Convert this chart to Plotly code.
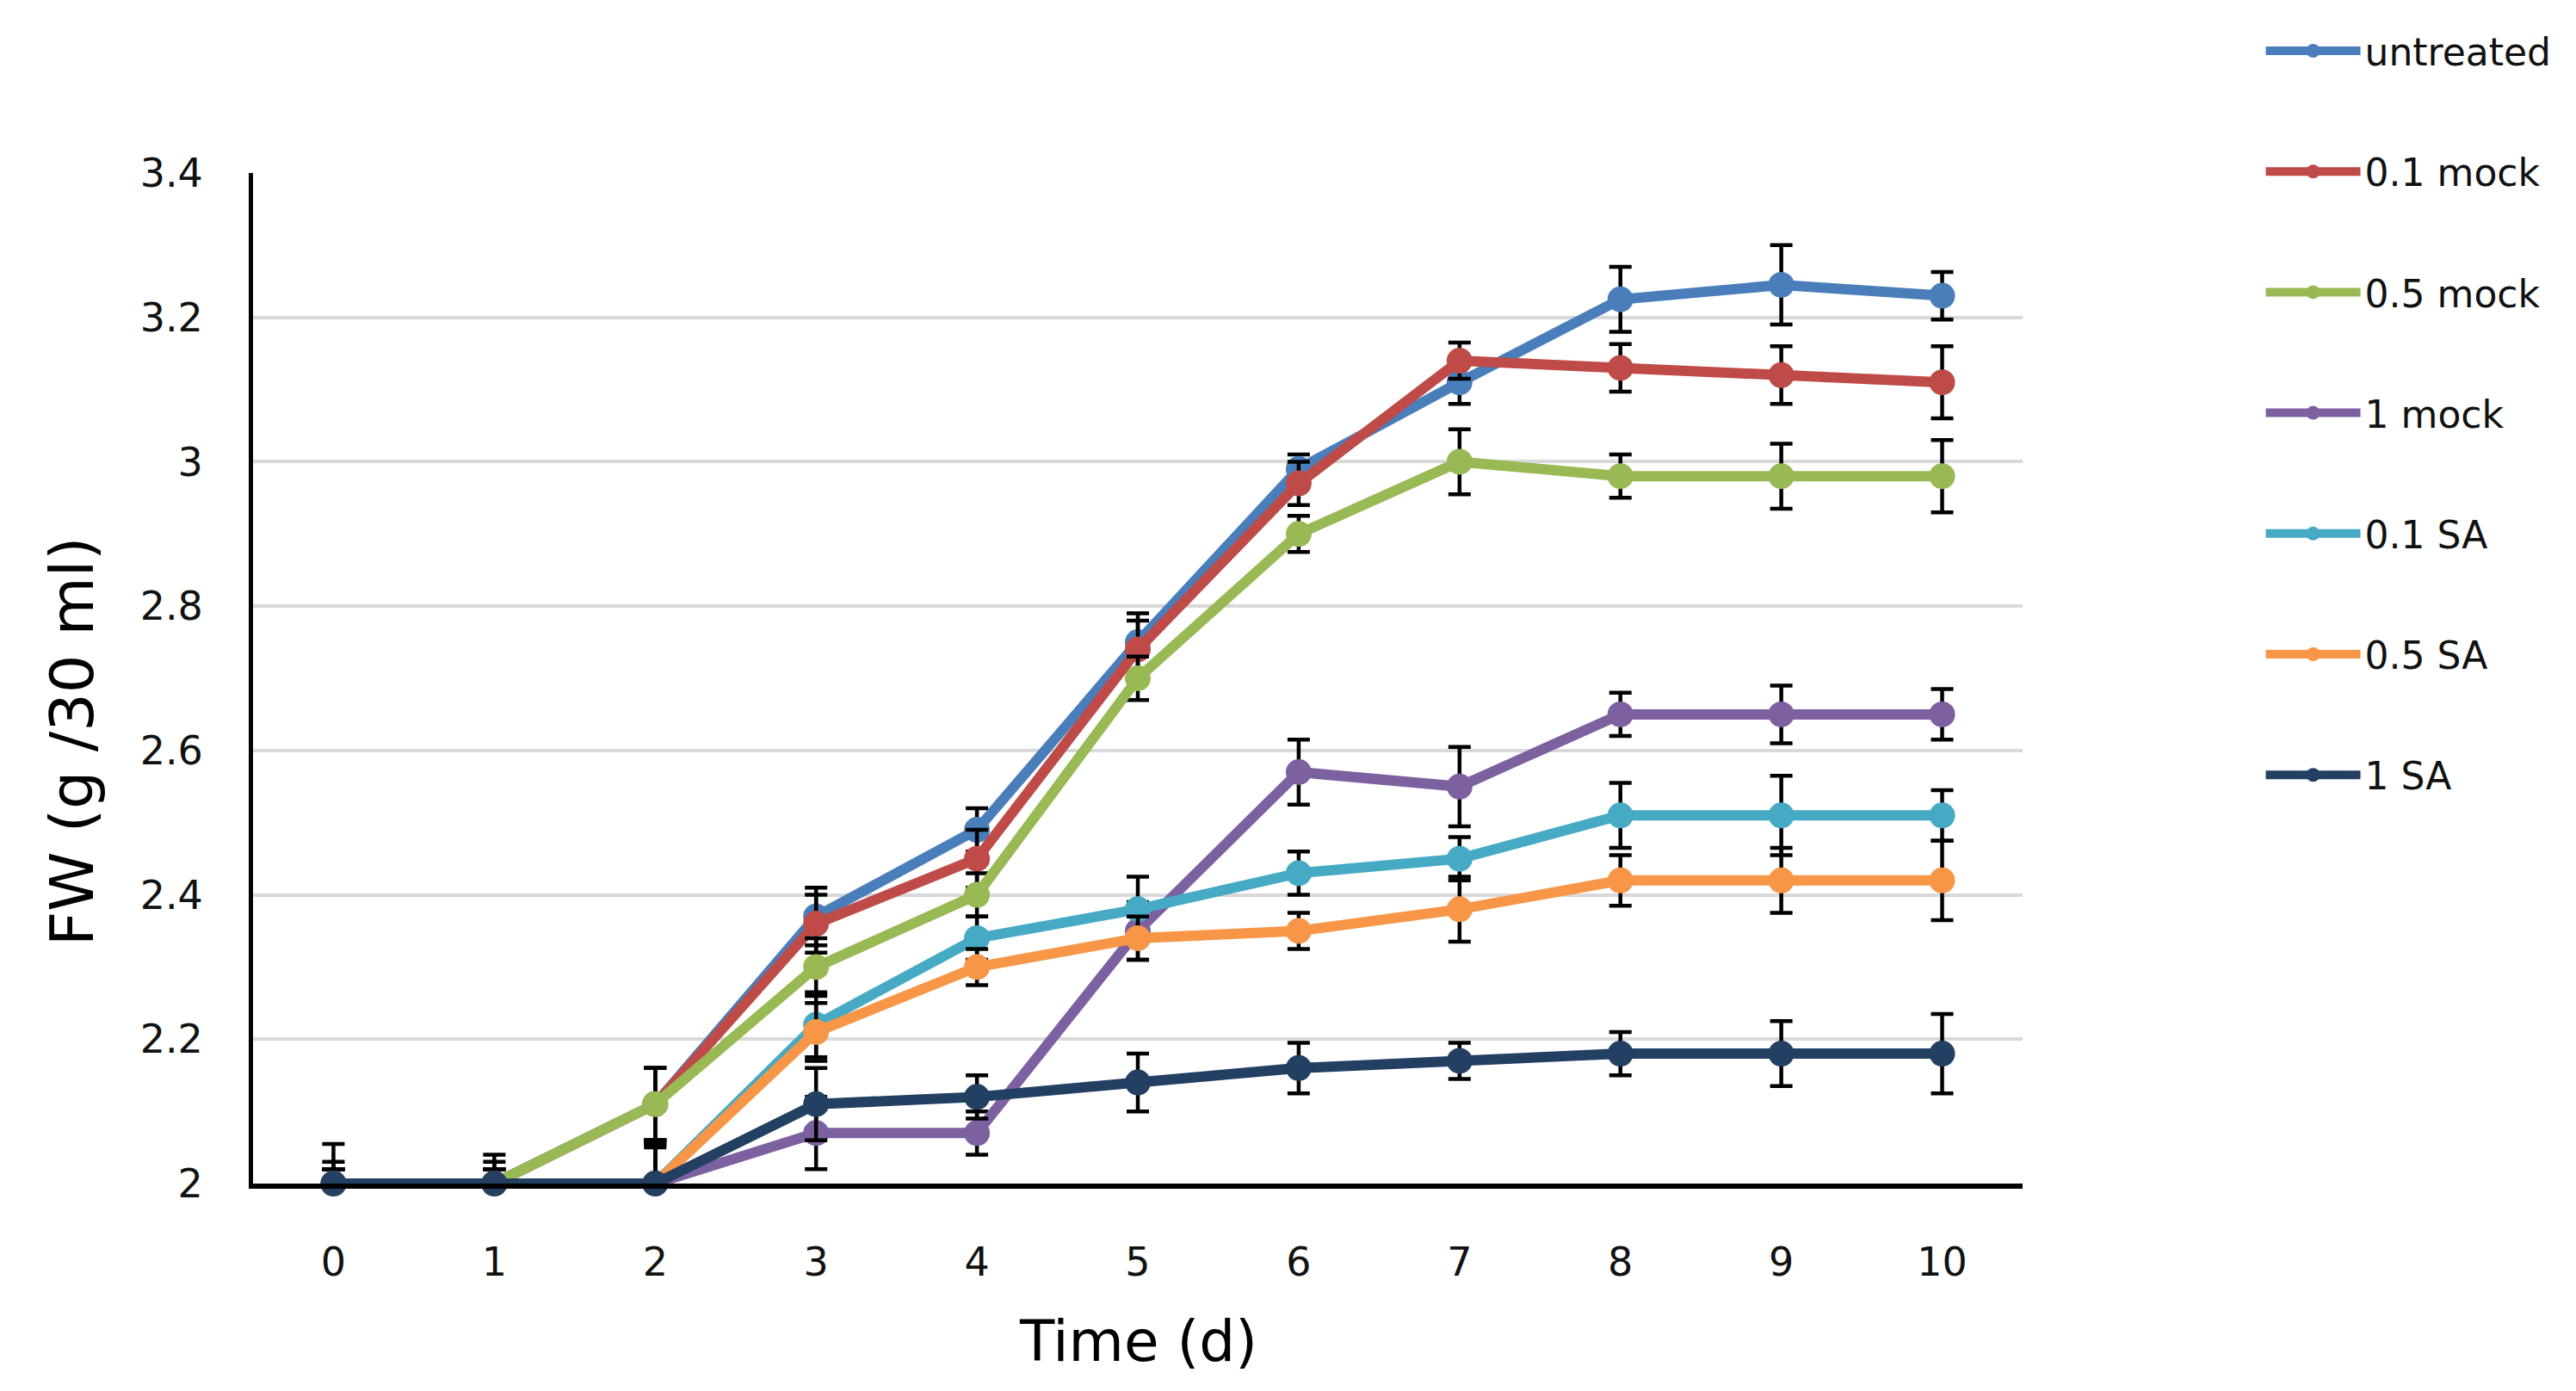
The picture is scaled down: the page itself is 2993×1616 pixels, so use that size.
import plotly.graph_objects as go

days = [0, 1, 2, 3, 4, 5, 6, 7, 8, 9, 10]
x_tick_labels = ["0", "1", "2", "3", "4", "5", "6", "7", "8", "9", "10"]
y_tick_values = [2.0, 2.2, 2.4, 2.6, 2.8, 3.0, 3.2, 3.4]

series_names = ["untreated", "0.1 mock", "0.5 mock", "1 mock", "0.1 SA", "0.5 SA", "1 SA"]

untreated = [2.0, 2.0, 2.11, 2.37, 2.49, 2.75, 2.99, 3.11, 3.225, 3.245, 3.23]
untreated_err = [0.055, 0.04, 0.05, 0.04, 0.03, 0.04, 0.02, 0.03, 0.045, 0.055, 0.033]
untreated_err_minus = [0.0, 0.0, 0.05, 0.04, 0.03, 0.04, 0.02, 0.03, 0.045, 0.055, 0.033]

mock_01 = [2.0, 2.0, 2.11, 2.36, 2.45, 2.74, 2.97, 3.14, 3.13, 3.12, 3.11]
mock_01_err = [0.02, 0.02, 0.05, 0.04, 0.04, 0.04, 0.03, 0.025, 0.033, 0.04, 0.05]
mock_01_err_minus = [0.0, 0.0, 0.05, 0.04, 0.04, 0.04, 0.03, 0.025, 0.033, 0.04, 0.05]

mock_05 = [2.0, 2.0, 2.11, 2.30, 2.40, 2.70, 2.90, 3.00, 2.98, 2.98, 2.98]
mock_05_err = [0.02, 0.02, 0.05, 0.04, 0.03, 0.03, 0.025, 0.045, 0.03, 0.045, 0.05]
mock_05_err_minus = [0.0, 0.0, 0.05, 0.04, 0.03, 0.03, 0.025, 0.045, 0.03, 0.045, 0.05]

mock_1 = [2.0, 2.0, 2.0, 2.07, 2.07, 2.35, 2.57, 2.55, 2.65, 2.65, 2.65]
mock_1_err = [0.02, 0.02, 0.05, 0.05, 0.03, 0.04, 0.045, 0.055, 0.03, 0.04, 0.035]
mock_1_err_minus = [0.0, 0.0, 0.0, 0.05, 0.03, 0.04, 0.045, 0.055, 0.03, 0.04, 0.035]

sa_01 = [2.0, 2.0, 2.0, 2.22, 2.34, 2.38, 2.43, 2.45, 2.51, 2.51, 2.51]
sa_01_err = [0.02, 0.02, 0.055, 0.045, 0.03, 0.045, 0.03, 0.03, 0.045, 0.055, 0.035]
sa_01_err_minus = [0.0, 0.0, 0.0, 0.045, 0.03, 0.045, 0.03, 0.03, 0.045, 0.055, 0.035]

sa_05 = [2.0, 2.0, 2.0, 2.21, 2.30, 2.34, 2.35, 2.38, 2.42, 2.42, 2.42]
sa_05_err = [0.02, 0.02, 0.055, 0.04, 0.025, 0.03, 0.025, 0.045, 0.035, 0.045, 0.055]
sa_05_err_minus = [0.0, 0.0, 0.0, 0.04, 0.025, 0.03, 0.025, 0.045, 0.035, 0.045, 0.055]

sa_1 = [2.0, 2.0, 2.0, 2.11, 2.12, 2.14, 2.16, 2.17, 2.18, 2.18, 2.18]
sa_1_err = [0.03, 0.03, 0.06, 0.05, 0.03, 0.04, 0.035, 0.025, 0.03, 0.045, 0.055]
sa_1_err_minus = [0.0, 0.0, 0.0, 0.05, 0.03, 0.04, 0.035, 0.025, 0.03, 0.045, 0.055]

colors = ["#4A7EBB", "#BE4B48", "#98B954", "#7D60A0", "#46AAC5", "#F79646", "#233F62"]

all_values = [untreated, mock_01, mock_05, mock_1, sa_01, sa_05, sa_1]
all_err = [untreated_err, mock_01_err, mock_05_err, mock_1_err, sa_01_err, sa_05_err, sa_1_err]
all_err_minus = [untreated_err_minus, mock_01_err_minus, mock_05_err_minus, mock_1_err_minus,
                 sa_01_err_minus, sa_05_err_minus, sa_1_err_minus]

fig = go.Figure()
for i, name in enumerate(series_names):
    fig.add_trace(go.Scatter(
        x=days, y=all_values[i], name=name, mode="lines+markers",
        legendgroup=name,
        line=dict(color=colors[i], width=12),
        marker=dict(color=colors[i], size=30),
        error_y=dict(type="data", array=all_err[i], arrayminus=all_err_minus[i],
                     symmetric=False, color="#000000", thickness=4.5, width=13),
        cliponaxis=False,
    ))

fig.update_layout(
    width=2993, height=1616,
    paper_bgcolor="white", plot_bgcolor="white",
    margin=dict(l=286, r=651, t=193, b=249),
    showlegend=True,
    legend=dict(x=1.135, y=0.374, xanchor="left", yanchor="bottom",
                font=dict(family="DejaVu Sans", size=44, color="#111111"),
                tracegroupgap=80, itemwidth=110, bgcolor="rgba(0,0,0,0)"),
    xaxis=dict(range=[-0.5, 10.5], tickmode="array", tickvals=days, ticktext=x_tick_labels,
               showgrid=False, zeroline=False, showline=True, linecolor="#000000", linewidth=6,
               ticks="", tickfont=dict(family="DejaVu Sans", size=46, color="#111111"),
               ticklabelstandoff=46),
    yaxis=dict(range=[2.0, 3.4], tickmode="array", tickvals=y_tick_values,
               showgrid=True, gridcolor="#D9D9D9", gridwidth=4, zeroline=False,
               showline=True, linecolor="#000000", linewidth=5,
               ticks="", tickfont=dict(family="DejaVu Sans", size=46, color="#111111"),
               ticklabelstandoff=44),
    annotations=[
        dict(text="Time (d)", xref="paper", yref="paper", x=0.5, y=-0.156,
             xanchor="center", yanchor="middle", showarrow=False,
             font=dict(family="DejaVu Sans", size=66, color="#000000")),
        dict(text="FW (g /30 ml)", xref="paper", yref="paper", x=-0.102, y=0.438,
             xanchor="center", yanchor="middle", showarrow=False, textangle=-90,
             font=dict(family="DejaVu Sans", size=70, color="#000000")),
    ],
)

fig.write_html("out.html")
